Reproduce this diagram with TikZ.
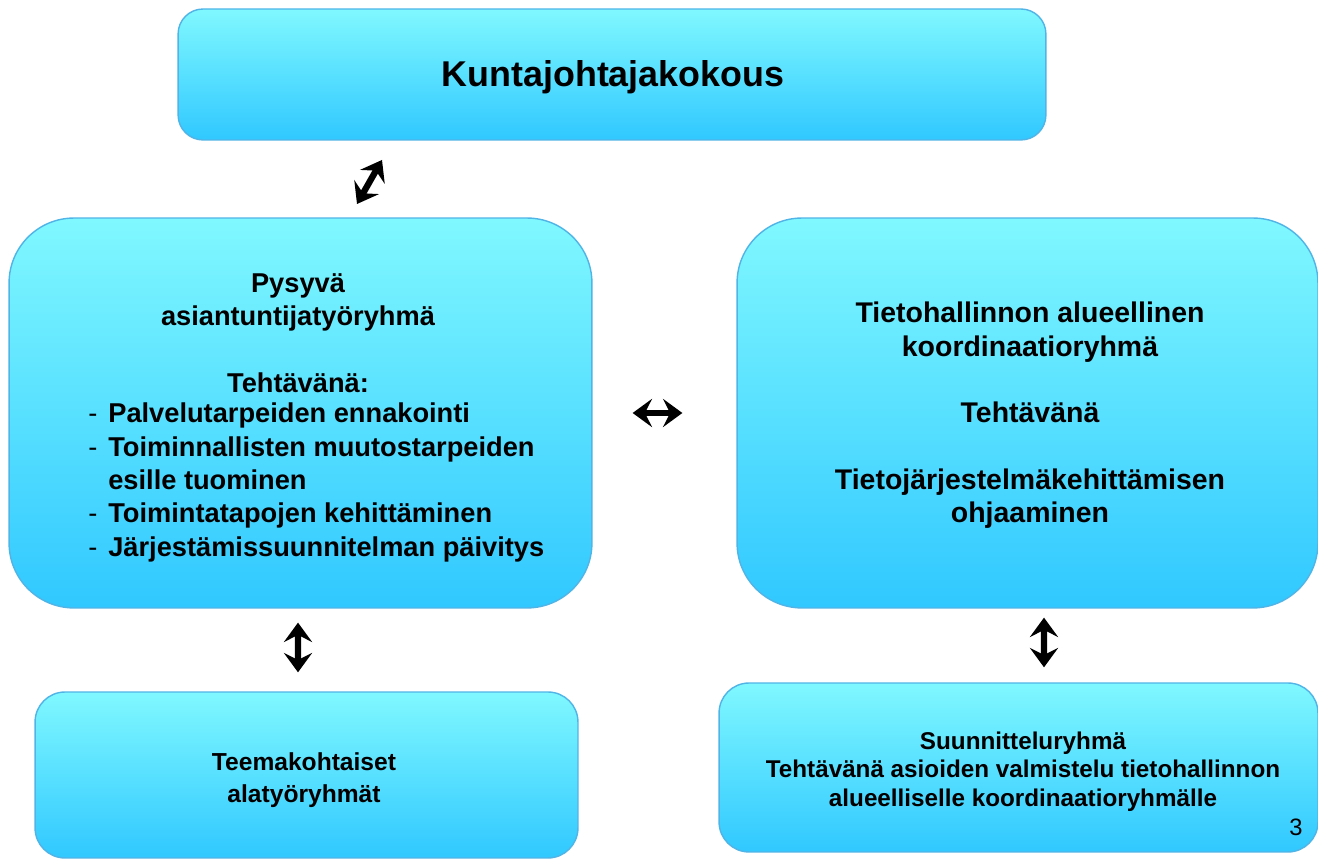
\documentclass[tikz,border=0pt]{standalone}
\usepackage{fontspec}
\setmainfont{Liberation Sans}
\usetikzlibrary{arrows.meta}

\definecolor{boxtop}{RGB}{128,248,255}
\definecolor{boxbottom}{RGB}{48,200,255}
\definecolor{boxline}{RGB}{80,180,230}

\newcommand{\dashitem}{\makebox[0.4cm][l]{\mdseries -}}

\begin{document}
\begin{tikzpicture}
		[
			x=0.02cm, y=0.02cm,
			box/.style={rectangle, draw=boxline, line width=0.8pt, top color=boxtop, bottom color=boxbottom, inner sep=0pt},
			txt/.style={inner sep=0pt, align=center},
			title/.style={font=\fontsize{20.4}{24}\selectfont\bfseries},
			big/.style={font=\fontsize{15.5}{19}\selectfont\bfseries},
			small/.style={font=\fontsize{14}{18}\selectfont\bfseries},
			dbl/.style={line width=3.6pt, {Stealth[length=11pt, width=16pt, inset=4pt]}-{Stealth[length=11pt, width=16pt, inset=4pt]}},
		]
		\useasboundingbox (0,0) rectangle (1318,861);

		% Boxes
		\foreach \name/\x/\y/\w/\h/\r in
		{
			kunta/612/786.5/17.36cm/2.62cm/0.5cm,
			pysyva/300.5/448/11.66cm/7.8cm/1.3cm,
			tieto/1027.5/448/11.62cm/7.8cm/1.3cm,
			teema/306.5/86/10.86cm/3.32cm/0.6cm,
			suunn/1018.5/93.5/11.98cm/3.38cm/0.6cm
		}
			\node[box, rounded corners=\r, minimum width=\w, minimum height=\h] (\name) at (\x,\y) {};

		% Texts
		\node[txt, title] (kuntatxt) at (613,784) {Kuntajohtajakokous};
		\node[txt, big] (pysyvatxt) at (298,528) {Pysyvä\\asiantuntijatyöryhmä\\[19pt]Tehtävänä:};
		\node[txt, big, align=left, anchor=west] (tehtavat) at (88,378.5)
			{\dashitem Palvelutarpeiden ennakointi\\
			 \dashitem Toiminnallisten muutostarpeiden\\
			 \hspace*{0.4cm}esille tuominen\\
			 \dashitem Toimintatapojen kehittäminen\\
			 \dashitem Järjestämissuunnitelman päivitys};
		\node[txt, big, font=\fontsize{16.2}{19}\selectfont\bfseries] (tietotxt) at (1030,445.5)
			{Tietohallinnon alueellinen\\koordinaatioryhmä\\[19pt]Tehtävänä\\[19pt]Tietojärjestelmäkehittämisen\\ohjaaminen};
		\node[txt, small] (teematxt) at (304,81) {Teemakohtaiset\\alatyöryhmät};
		\node[txt, small, font=\fontsize{13.8}{16.2}\selectfont\bfseries] (suunntxt) at (1023,89.5)
			{Suunnitteluryhmä\\Tehtävänä asioiden valmistelu tietohallinnon\\alueelliselle koordinaatioryhmälle};
		\node[txt, font=\fontsize{13.5}{16}\selectfont] (sivu) at (1296,34) {3};

		% Arrows
		\coordinate (d1) at (357,657);
		\coordinate (d2) at (382,701);
		\draw[dbl] (d1) -- (d2);
		\draw[dbl, shorten <=0.8cm, shorten >=1.08cm] (pysyva.east) -- (tieto.west);
		\draw[dbl, shorten <=0.28cm, shorten >=0.38cm] ([xshift=-0.05cm]pysyva.south) -- ([xshift=-0.17cm]teema.north);
		\draw[dbl, shorten <=0.18cm, shorten >=0.3cm] ([xshift=0.33cm]tieto.south) -- ([xshift=0.51cm]suunn.north);

		\end{tikzpicture}
\end{document}
